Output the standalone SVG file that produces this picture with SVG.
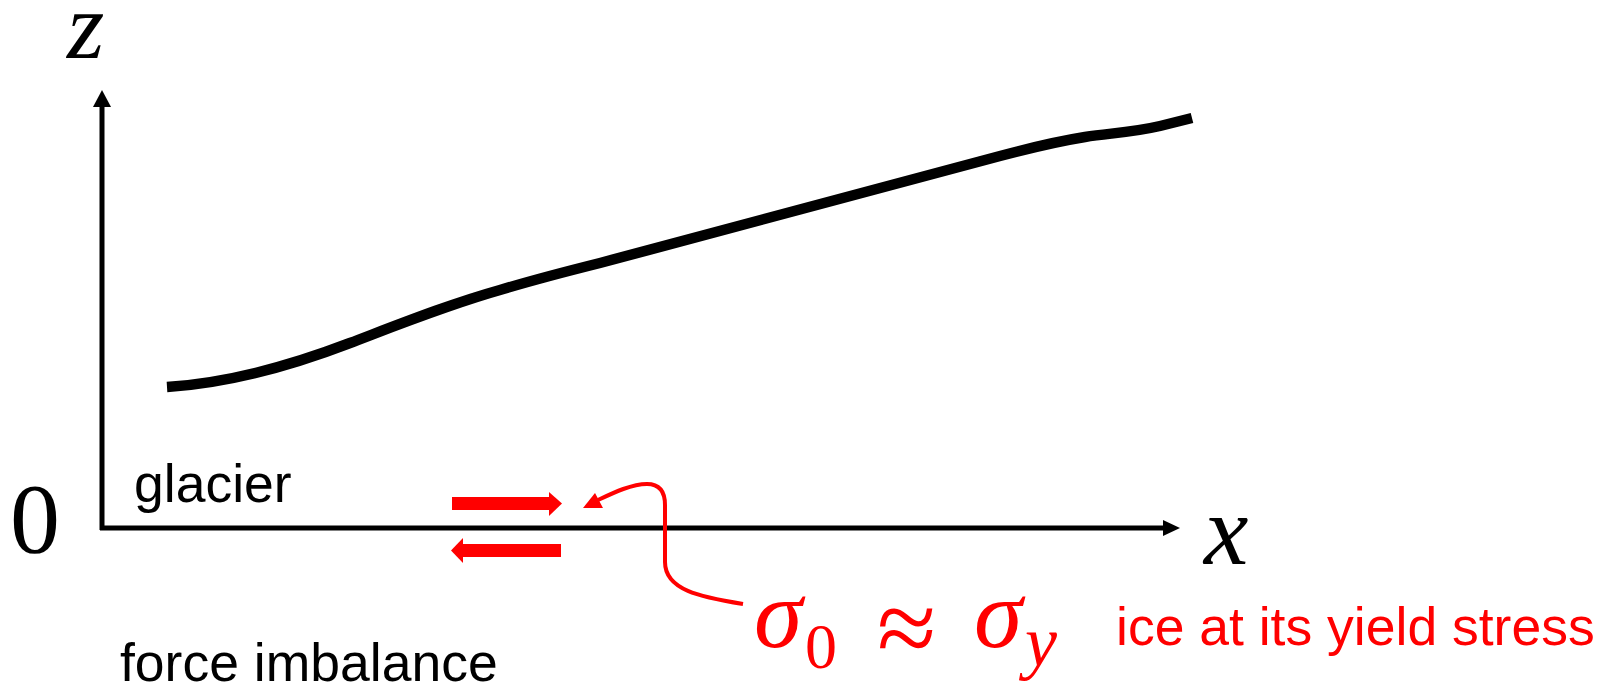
<svg xmlns="http://www.w3.org/2000/svg" width="1611" height="692" viewBox="0 0 1611 692">
<style>
.ax{stroke:#000;stroke-width:5;fill:none}
.lbl{font-family:"Liberation Sans",Arial,sans-serif;font-size:53.5px}
.math{font-family:"Liberation Serif","Times New Roman",serif;font-style:italic}
.red{fill:#FF0000}
</style>
<rect width="1611" height="692" fill="#fff"/>
<g id="axes">
<line class="ax" x1="102" y1="530" x2="102" y2="104"/>
<polygon points="102,90 93,107 111,107" fill="#000"/>
<line class="ax" x1="100" y1="528" x2="1165" y2="528"/>
<polygon points="1180,528 1163,520 1163,536" fill="#000"/>
</g>
<g id="surface">
<path d="M167,387 C230,383 290,366 350,343 C400,324 450,304 500,290 C530,281 560,273 600,263 L1000,156 C1030,148 1060,141 1085,137 C1110,133 1130,133 1160,126 L1192,118" fill="none" stroke="#000" stroke-width="10.5"/>
</g>
<g id="labels">
<text class="math" x="67" y="58" font-size="96">z</text>
<text x="10" y="552" font-family="Liberation Serif, serif" font-size="100">0</text>
<text class="math" x="1204" y="564" font-size="100">x</text>
<text class="lbl" x="134" y="502">glacier</text>
<text class="lbl" x="120" y="681">force imbalance</text>
</g>
<g id="stress-arrows" class="red">
<rect x="452" y="497" width="98" height="13"/>
<polygon points="549,492 562,503.5 549,516"/>
<rect x="463" y="544" width="98" height="13"/>
<polygon points="463,538 451,550.5 463,563"/>
</g>
<g id="connectors">
<path d="M598,500 C615,492 632,484 647,484 C660,484 665,492 665,505 L665,562 C665,590 700,597 743,604" fill="none" stroke="#FF0000" stroke-width="4"/>
<polygon points="583,508 595,493 603,508" fill="#FF0000"/>
</g>
<g id="equation" class="red">
<text class="math" x="754" y="647" font-size="98">σ</text>
<text x="805" y="668" font-family="Liberation Serif, serif" font-size="64">0</text>
<text x="877" y="664" font-family="Liberation Serif, serif" font-size="108">≈</text>
<text class="math" x="974" y="647" font-size="98">σ</text>
<text class="math" x="1025" y="666" font-size="72">y</text>
<text class="lbl" x="1116" y="645" font-size="54">ice at its yield stress</text>
</g>
</svg>
